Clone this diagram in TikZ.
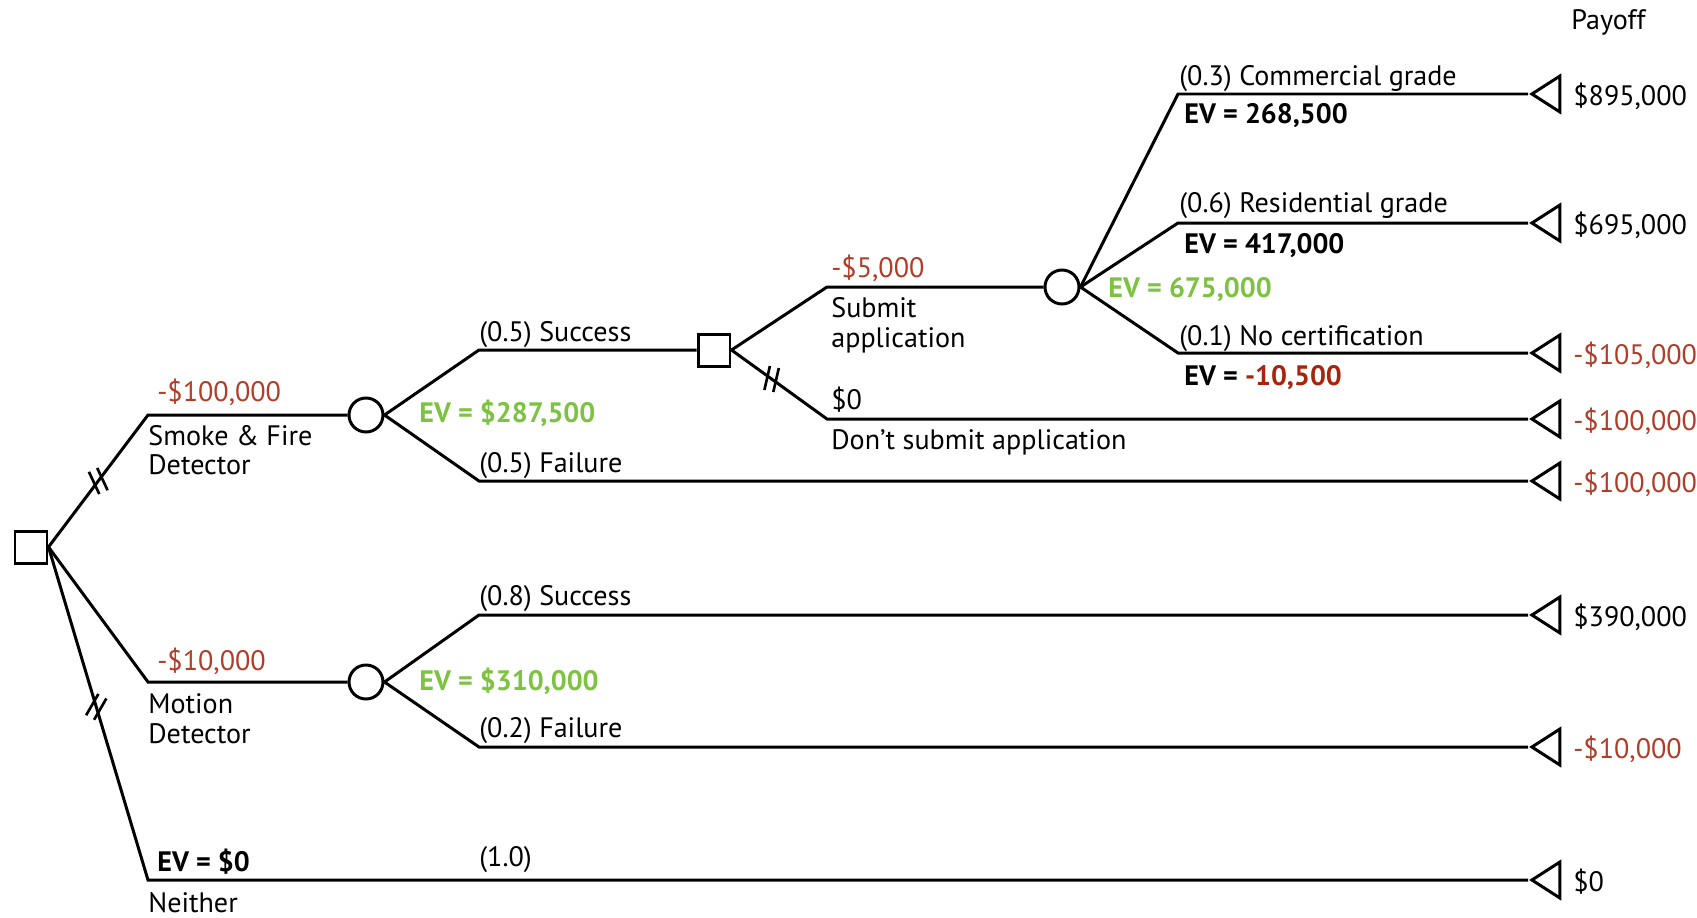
\documentclass[tikz,border=0pt]{standalone}
\usepackage{fontspec}
\setmainfont{PT Sans}
\usepackage{xcolor}
\usetikzlibrary{shapes.geometric}
\definecolor{costred}{RGB}{178,60,40}
\definecolor{evgreen}{RGB}{126,194,66}
\definecolor{evred}{RGB}{168,36,16}
\tikzset{
  branch/.style={line width=1.7pt},
  decision/.style={draw, line width=1.7pt, rectangle, minimum size=0.64cm, inner sep=0pt},
  chance/.style={draw, line width=1.7pt, circle, minimum size=0.68cm, inner sep=0pt},
  terminal/.style={draw, line width=1.7pt, isosceles triangle, isosceles triangle stretches,
    shape border rotate=180, minimum width=0.72cm, minimum height=0.56cm, inner sep=0pt, anchor=apex},
  txt/.style={anchor=base west, inner sep=0pt, font=\fontsize{16}{19}\selectfont},
  cost/.style={txt, text=costred},
  ev/.style={txt, font=\fontsize{16}{19}\selectfont\bfseries},
  pics/cut/.style={code={
    \draw[line width=1.5pt, rotate=#1] (-2.6pt,-7pt) -- (-2.6pt,7pt) (2.6pt,-7pt) -- (2.6pt,7pt);}}
}

\begin{document}
\begin{tikzpicture}[x=0.02cm,y=-0.02cm]
\useasboundingbox (0,0) rectangle (1697,917);
%---------------------------------------------------
\node[decision] (root) at (31,547) {};
\node[chance]   (n1) at (366,415) {};
\node[decision] (d2) at (714,350) {};
\node[chance]   (n2) at (1062,287) {};
\node[chance]   (n3) at (366,682) {};
%---------------------------------------------------
\coordinate (sf)  at (148,415);
\coordinate (md)  at (148,682);
\coordinate (nei) at (148,880);
\coordinate (suc1) at (479,350);
\coordinate (fai1) at (479,481);
\coordinate (sub) at (827,287);
\coordinate (dont) at (827,419);
\coordinate (com) at (1178,94);
\coordinate (res) at (1178,223);
\coordinate (noc) at (1178,353);
\coordinate (suc3) at (479,615);
\coordinate (fai3) at (479,747);
%---------------------------------------------------
\node[terminal] (t1) at (1528,94)  {};
\node[terminal] (t2) at (1528,223) {};
\node[terminal] (t3) at (1528,353) {};
\node[terminal] (t4) at (1528,419) {};
\node[terminal] (t5) at (1528,481) {};
\node[terminal] (t6) at (1528,615) {};
\node[terminal] (t7) at (1528,747) {};
\node[terminal] (t8) at (1528,880) {};
%---------------------------------------------------
\draw[branch] (root.east) -- pic[pos=0.5]{cut=25} (sf) -- (n1);
\draw[branch] (root.east) -- (md) -- (n3);
\draw[branch] (root.east) -- pic[pos=0.48]{cut=-30} (nei) -- (t8.apex);
\draw[branch] (n1.east) -- (suc1) -- (d2);
\draw[branch] (n1.east) -- (fai1) -- (t5.apex);
\draw[branch] (d2.east) -- (sub) -- (n2);
\draw[branch] (d2.east) -- pic[pos=0.42]{cut=-13} (dont) -- (t4.apex);
\draw[branch] (n2.east) -- (com) -- (t1.apex);
\draw[branch] (n2.east) -- (res) -- (t2.apex);
\draw[branch] (n2.east) -- (noc) -- (t3.apex);
\draw[branch] (n3.east) -- (suc3) -- (t6.apex);
\draw[branch] (n3.east) -- (fai3) -- (t7.apex);
%---------------------------------------------------
\node[txt]  (hdr)  at (1571,29)  {Payoff};
\node[cost] (csf)  at (157,401)  {-\$100,000};
\node[txt]  (lsf1) at (148,445)  {Smoke \& Fire};
\node[txt]  (lsf2) at (148,474)  {Detector};
\node[cost] (cmd)  at (157,670)  {-\$10,000};
\node[txt]  (lmd1) at (148,713)  {Motion};
\node[txt]  (lmd2) at (148,743)  {Detector};
\node[ev]   (evn)  at (157,871)  {EV = \$0};
\node[txt]  (lnei) at (148,912)  {Neither};
\node[txt]  (pnei) at (479,866)  {(1.0)};
%---------------------------------------------------
\node[ev, text=evgreen] (ev1) at (419,422) {EV = \$287,500};
\node[txt]  (psuc1) at (479,341) {(0.5) Success};
\node[txt]  (pfai1) at (479,472) {(0.5) Failure};
\node[cost] (csub)  at (831,277) {-\$5,000};
\node[txt]  (lsub1) at (831,317) {Submit};
\node[txt]  (lsub2) at (831,347) {application};
\node[txt]  (cdont) at (831,409) {\$0};
\node[txt]  (ldont) at (831,449) {Don’t submit application};
%---------------------------------------------------
\node[ev, text=evgreen] (ev2) at (1108,297) {EV = 675,000};
\node[txt] (pcom) at (1179,85)  {(0.3) Commercial grade};
\node[ev]  (evc)  at (1184,123) {EV = 268,500};
\node[txt] (pres) at (1179,212) {(0.6) Residential grade};
\node[ev]  (evr)  at (1184,253) {EV = 417,000};
\node[txt] (pnoc) at (1179,345) {(0.1) No certification};
\node[ev]  (evno) at (1184,385) {EV = {\color{evred}-10,500}};
%---------------------------------------------------
\node[ev, text=evgreen] (ev3) at (419,690) {EV = \$310,000};
\node[txt] (psuc3) at (479,605) {(0.8) Success};
\node[txt] (pfai3) at (479,737) {(0.2) Failure};
%---------------------------------------------------
\node[txt]  (v1) at (1573,105) {\$895,000};
\node[txt]  (v2) at (1573,234) {\$695,000};
\node[cost] (v3) at (1573,364) {-\$105,000};
\node[cost] (v4) at (1573,430) {-\$100,000};
\node[cost] (v5) at (1573,492) {-\$100,000};
\node[txt]  (v6) at (1573,626) {\$390,000};
\node[cost] (v7) at (1573,758) {-\$10,000};
\node[txt]  (v8) at (1573,891) {\$0};
\end{tikzpicture}
\end{document}
